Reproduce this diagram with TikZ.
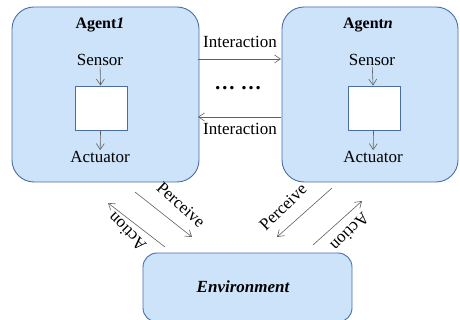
\documentclass[tikz,border=0pt]{standalone}
\usepackage{fontspec}
\setmainfont{Liberation Serif}
\usetikzlibrary{arrows.meta}
\definecolor{boxfill}{HTML}{CCE3F9}
\definecolor{boxline}{HTML}{4A6DA8}
\definecolor{wire}{HTML}{606060}
\tikzset{
  agentbox/.style={draw=boxline, fill=boxfill, line width=0.9pt, rounded corners=22pt},
  corebox/.style={draw=boxline, fill=white, line width=0.9pt},
  lbl/.style={font=\fontsize{17}{19}\selectfont, inner sep=1pt},
  flow/.style={draw=wire, line width=0.6pt, -{Straight Barb[length=6pt,width=8pt]}},
}
\begin{document}
\begin{tikzpicture}[x=1pt,y=-1pt]
\useasboundingbox (0,0) rectangle (460,320);

% agent containers and environment
\draw[agentbox] (12,7) rectangle (199,182);
\draw[agentbox] (282,7) rectangle (458,182);
\draw[agentbox, rounded corners=14pt] (143,253) rectangle (352,322);

% agent 1
\node[lbl, font=\fontsize{16}{18}\selectfont\bfseries] (t1) at (100,25) {Agent\textit{1}};
\node[lbl] (s1) at (100,60) {Sensor};
\node[corebox, minimum width=52pt, minimum height=44pt, inner sep=0pt] (c1) at (101,108) {};
\node[lbl] (a1) at (100,157) {Actuator};
\draw[flow] (s1) -- (c1);
\draw[flow] (c1) -- (a1);

% agent n
\node[lbl, font=\fontsize{16}{18}\selectfont\bfseries] (tn) at (368,25) {Agent\textit{n}};
\node[lbl] (sn) at (372,60) {Sensor};
\node[corebox, minimum width=52pt, minimum height=44pt, inner sep=0pt] (cn) at (374,108) {};
\node[lbl] (an) at (373,157) {Actuator};
\draw[flow] (sn) -- (cn);
\draw[flow] (cn) -- (an);

% interaction between agents
\coordinate (i1a) at (198,59);
\coordinate (i1b) at (281,59);
\coordinate (i2a) at (281,117);
\coordinate (i2b) at (198,117);
\draw[flow] (i1a) -- (i1b);
\draw[flow] (i2a) -- (i2b);
\node[lbl] (il1) at (240,42) {Interaction};
\node[lbl] (il2) at (240,129) {Interaction};
\node[lbl, font=\fontsize{21}{22}\selectfont\bfseries] (dots) at (238,88) {\dots\ \dots};

% environment
\node[lbl, font=\fontsize{17}{19}\selectfont\bfseries\itshape] (env) at (243,287) {Environment};

% perceive / action links
\coordinate (la1) at (165,247);
\coordinate (la2) at (108,203);
\coordinate (lp1) at (135,192);
\coordinate (lp2) at (192,237);
\coordinate (rp1) at (332,188);
\coordinate (rp2) at (277,237);
\coordinate (ra1) at (313,245);
\coordinate (ra2) at (362,201);
\draw[flow] (la1) -- (la2);
\draw[flow] (lp1) -- (lp2);
\draw[flow] (rp1) -- (rp2);
\draw[flow] (ra1) -- (ra2);
\node[lbl, rotate=135] (lal) at (127,232) {Action};
\node[lbl, rotate=-42] (lpl) at (181,205) {Perceive};
\node[lbl, rotate=44] (rpl) at (283,207) {Perceive};
\node[lbl, rotate=225] (ral) at (350,232) {Action};
\end{tikzpicture}
\end{document}
